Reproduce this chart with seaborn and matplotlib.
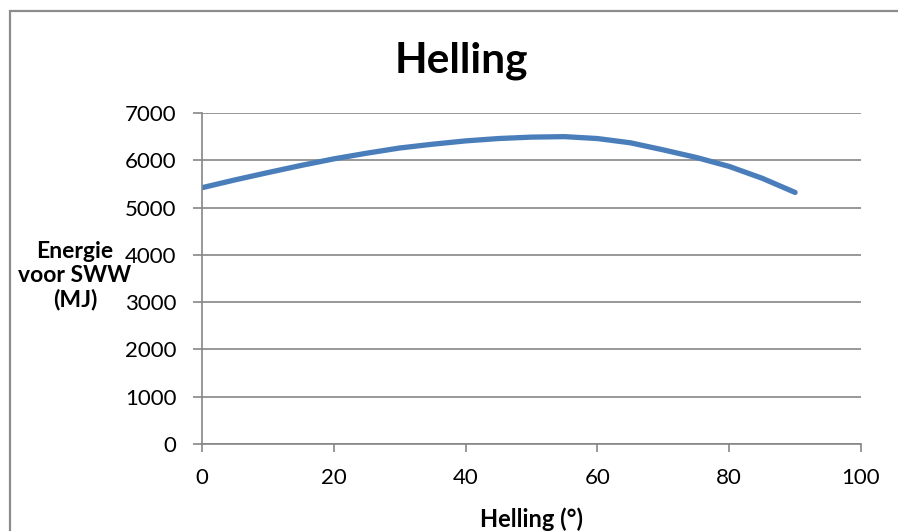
import matplotlib
matplotlib.use("Agg")
import matplotlib.pyplot as plt
import matplotlib.patches as mpatches
import seaborn as sns
import pandas as pd

# Tilt angle (degrees) and yearly energy for domestic hot water (MJ)
helling = [0, 5, 10, 15, 20, 25, 30, 35, 40, 45, 50, 55, 60, 65, 70, 75, 80, 85, 90]
energie = [5420, 5585, 5740, 5890, 6030, 6150, 6260, 6340, 6410, 6460,
           6490, 6500, 6460, 6370, 6220, 6060, 5870, 5620, 5320]

x_ticks = [0, 20, 40, 60, 80, 100]
y_ticks = [0, 1000, 2000, 3000, 4000, 5000, 6000, 7000]
y_label_lines = ["Energie", "voor SWW", "(MJ)"]

sns.set_theme(style="white")
plt.rcParams["font.family"] = ["Lato", "DejaVu Sans"]

df = pd.DataFrame({"Helling": helling, "Energie": energie})

fig = plt.figure(figsize=(8.98, 5.31), dpi=100)
fig.patch.set_facecolor("white")
ax = fig.add_axes([202 / 898, 1 - 444 / 531, (861 - 202) / 898, (444 - 113) / 531])

grey = "#868686"
sns.lineplot(data=df, x="Helling", y="Energie", ax=ax, color="#4A7EBB",
             linewidth=3.8, solid_capstyle="round", solid_joinstyle="round")

ax.set_xlim(0, 100)
ax.set_ylim(0, 7000)
ax.set_xticks(x_ticks)
ax.set_yticks(y_ticks)
ax.set_xticklabels([str(v) for v in x_ticks])
ax.set_yticklabels([str(v) for v in y_ticks])
ax.yaxis.grid(True, color=grey, linewidth=1.2)
ax.xaxis.grid(False)
ax.set_axisbelow(True)
for side in ("top", "right"):
    ax.spines[side].set_visible(False)
for side in ("left", "bottom"):
    ax.spines[side].set_color(grey)
    ax.spines[side].set_linewidth(1.2)
ax.tick_params(axis="x", direction="out", length=6, width=1.2, color=grey,
               labelsize=16, pad=11, labelcolor="black", bottom=True)
ax.tick_params(axis="y", direction="out", length=6.5, width=1.2, color=grey,
               labelsize=16, pad=12, labelcolor="black", left=True)
ax.set_xlabel("")
ax.set_ylabel("")

# Title and axis labels
fig.text(461 / 898, 1 - 61 / 531, "Helling", ha="center", va="center",
         fontsize=30.5, fontweight="bold", color="black")
for line, y_px in zip(y_label_lines, [251, 276, 300]):
    fig.text(75 / 898, 1 - y_px / 531, line, ha="center", va="center",
             fontsize=16.5, fontweight="bold", color="black")
fig.text(532 / 898, 1 - 519 / 531, "Helling (°)", ha="center", va="center",
         fontsize=17, fontweight="bold", color="black")

# Chart area border
fig.patches.append(mpatches.Rectangle((10 / 898, -0.1), 1.2, 1 - 11 / 531 + 0.1,
                                      transform=fig.transFigure, fill=False,
                                      edgecolor="#8c8c8c", linewidth=1.6))

fig.savefig("out.png", dpi=100, facecolor="white")
